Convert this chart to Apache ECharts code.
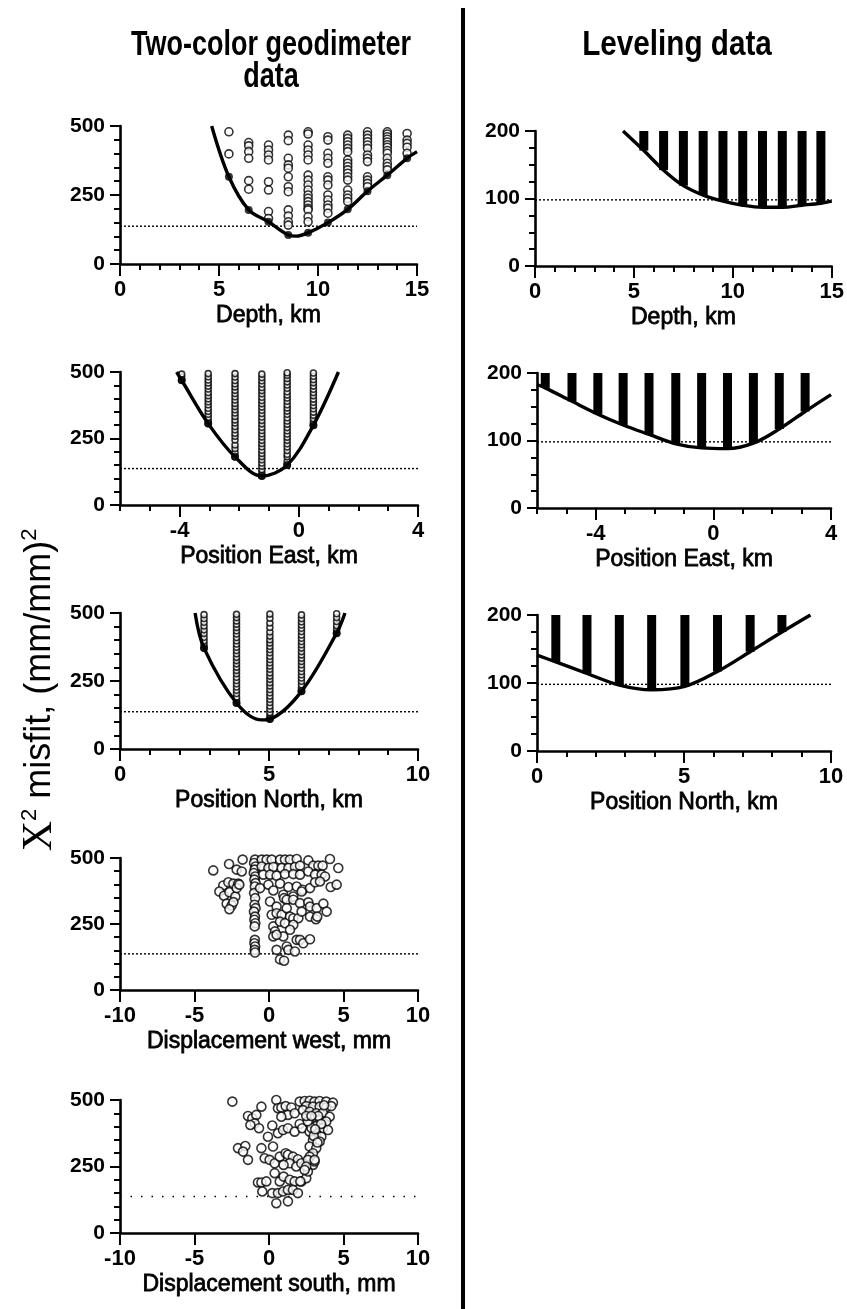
<!DOCTYPE html>
<html>
<head>
<meta charset="utf-8">
<script src="https://cdn.jsdelivr.net/npm/echarts@6/dist/echarts.min.js"></script>
<style>
html, body { margin: 0; padding: 0; background: #fff; }
#chart { width: 847px; height: 1309px; }
</style>
</head>
<body>
<div id="chart"></div>
<script>
// ---------- data ----------
var geoLine = 137;      // dotted reference level, two-color panels
var levLine = 98;       // dotted reference level, leveling panels

// two-color geodimeter: depth
var depthX = [5.5, 6.5, 7.5, 8.5, 9.5, 10.5, 11.5, 12.5, 13.5, 14.5];
var depthBest = [316, 196, 153, 105, 113, 150, 198, 264, 322, 383];
var depthRuns = [
  [479, 399],
  [440, 428, 407, 383, 302, 271],
  [431, 413, 395, 377, 298, 268, 190, 165],
  [467, 447, 383, 359, 347, 316, 280, 262, 196, 174, 153, 141],
  [479, 471, 431, 413, 395, 377, 322, 304, 286, 268, 250, 238, 226, 214, 202, 196, 171, 153],
  [461, 449, 401, 383, 365, 316, 304, 286, 250, 232, 214, 202, 184],
  [467, 455, 443, 431, 419, 407, 377, 365, 353, 341, 329, 316, 304, 268, 250, 238, 226],
  [479, 467, 455, 443, 431, 419, 395, 383, 371, 316, 304, 292, 280],
  [479, 471, 461, 452, 442, 432, 423, 411, 401, 383, 365, 353, 341],
  [473, 449, 437, 423, 401]
];
var depthCurve = [[4.63, 500], [5.5, 316], [6.5, 196], [7.5, 153], [8.5, 105], [8.9, 101], [9.5, 113],
  [10.5, 150], [11.5, 198], [12.5, 264], [13.5, 322], [14.5, 383], [15, 407]];

// two-color geodimeter: position east
var eastX = [-3.93, -3.04, -2.14, -1.24, -0.39, 0.49];
var eastBest = [469, 306, 181, 109, 150, 300];
var eastRuns = [
  [469, 481, 492],
  [306, 317, 329, 341, 352, 364, 377, 388, 399, 411, 423, 436, 447, 459, 470, 482, 494],
  [181, 196, 212, 226, 244, 258, 270, 283, 295, 308, 320, 333, 346, 358, 370, 382, 395, 407, 419, 431, 444, 456, 468, 481, 494],
  [109, 121, 133, 146, 158, 170, 182, 194, 206, 219, 231, 243, 256, 268, 280, 292, 305, 318, 331, 344, 356, 368, 381, 393, 405, 418, 430, 442, 455, 467, 479, 492],
  [150, 164, 181, 191, 205, 218, 230, 243, 255, 267, 279, 291, 304, 316, 328, 341, 353, 365, 377, 390, 402, 414, 426, 439, 451, 463, 476, 488, 497],
  [300, 312, 325, 337, 349, 362, 374, 386, 398, 411, 423, 435, 447, 460, 472, 484, 496]
];
var eastCurve = [[-4.1, 500], [-3.93, 469], [-3.04, 306], [-2.14, 181], [-1.24, 109], [-0.39, 150], [0.49, 300], [1.33, 500]];

// two-color geodimeter: position north
var northX = [2.82, 3.91, 5.03, 6.09, 7.27];
var northBest = [371, 169, 110, 212, 426];
var northRuns = [
  [371, 385, 398, 411, 425, 438, 452, 466, 480, 494],
  [169, 181, 190, 204, 216, 228, 240, 252, 264, 277, 289, 301, 313, 325, 337, 350, 362, 374, 386, 398, 410, 423, 435, 447, 459, 471, 483, 495],
  [110, 122, 134, 146, 158, 171, 183, 195, 207, 219, 232, 244, 256, 268, 280, 293, 305, 317, 329, 341, 354, 366, 378, 390, 402, 415, 430, 447, 463, 481, 496],
  [212, 224, 236, 249, 261, 273, 285, 297, 310, 322, 334, 346, 358, 371, 383, 395, 407, 419, 432, 444, 456, 468, 480, 493],
  [426, 440, 454, 469, 483, 497]
];
var northCurve = [[2.52, 500], [2.82, 371], [3.91, 169], [4.75, 107], [5.03, 110], [6.09, 212], [7.27, 426], [7.55, 500]];

// two-color geodimeter: displacement west
var westPts = [
  [-3.74, 453], [-2.68, 477], [-2.17, 456], [-1.83, 449], [-1.77, 494], [-3.07, 396], [-2.73, 408], [-2.39, 403],
  [-2.06, 403], [-3.33, 373], [-3.02, 357], [-2.66, 370], [-2.26, 354], [-2.84, 327], [-2.51, 320], [-2.39, 333],
  [-2.66, 306], [-2.17, 386], [-1.99, 399],
  [-0.94, 494], [-1.0, 481], [-0.9, 468], [-0.96, 456], [-1.02, 443], [-0.92, 430], [-0.98, 418], [-0.9, 405],
  [-0.95, 392], [-1.0, 367], [-0.93, 348], [-0.97, 323], [-0.9, 310], [-1.01, 297], [-0.94, 278], [-0.98, 266],
  [-0.92, 253], [-0.96, 241], [-0.95, 190], [-0.98, 177], [-0.93, 165], [-0.96, 152], [-0.94, 142],
  [-0.49, 494], [-0.16, 494], [0.18, 494], [0.74, 494], [1.07, 494], [1.41, 494], [1.86, 496], [2.64, 491], [4.09, 496],
  [-0.49, 468], [-0.04, 462], [0.29, 466], [0.85, 462], [1.30, 462], [1.74, 466], [2.08, 471], [2.97, 471],
  [3.31, 471], [3.60, 471], [4.65, 462],
  [-0.38, 437], [0.07, 437], [0.51, 433], [1.07, 439], [1.63, 439], [2.08, 437], [2.64, 449], [3.09, 437],
  [3.53, 437], [3.76, 430],
  [-0.60, 386], [-0.04, 399], [0.29, 377], [0.74, 403], [1.30, 390], [1.86, 392], [2.26, 380], [2.75, 386],
  [3.09, 408], [3.42, 411], [4.14, 390], [4.54, 399],
  [1.63, 354], [0.96, 361], [2.19, 373],
  [0.07, 335], [0.51, 316], [1.01, 348], [1.19, 342], [1.63, 342], [2.08, 329], [2.64, 332], [2.75, 316],
  [3.20, 310], [3.65, 327], [3.87, 297],
  [0.18, 285], [0.51, 291], [0.85, 285], [1.19, 310], [1.41, 278], [1.63, 272], [1.97, 272], [2.19, 297],
  [2.75, 278], [3.15, 268], [3.24, 278],
  [0.29, 241], [0.74, 259], [1.07, 253], [1.63, 247], [1.41, 228], [0.40, 222], [0.29, 203], [0.96, 203], [0.51, 209],
  [1.86, 190], [2.08, 190], [2.30, 177], [2.75, 192],
  [0.51, 152], [1.19, 165], [1.30, 152], [1.74, 146], [0.74, 116], [1.01, 111]
];

// two-color geodimeter: displacement south
var southPts = [
  [-2.46, 494], [-1.41, 440], [-1.12, 431], [-0.85, 444], [-0.51, 475], [-0.96, 412], [-0.67, 394], [-1.25, 406],
  [0.49, 500], [0.60, 469], [0.83, 472], [1.12, 477], [1.50, 472], [1.27, 444], [0.83, 437], [1.72, 450],
  [0.22, 404], [0.60, 375], [0.94, 387], [1.27, 394], [1.72, 381], [2.06, 410], [2.23, 394],
  [-0.07, 362], [0.27, 325], [-0.51, 319], [-2.08, 319], [-1.59, 327], [-1.74, 306], [-1.41, 275],
  [-0.29, 281], [0.04, 275], [0.38, 262], [0.72, 287], [1.12, 300], [1.27, 294], [1.61, 287], [1.94, 277],
  [1.39, 262], [0.98, 256], [1.83, 250], [2.17, 262], [2.95, 256], [3.06, 269],
  [0.38, 225], [0.72, 194], [0.98, 212], [1.39, 200], [1.72, 194], [2.17, 194], [2.50, 206], [2.61, 231],
  [-0.74, 190], [-0.51, 190], [-0.18, 194],
  [-0.45, 156], [0.22, 150], [0.60, 150], [0.94, 156], [1.27, 162], [1.61, 162], [1.94, 150], [2.10, 194],
  [0.49, 112], [1.27, 119],
  [2.06, 494], [2.39, 496], [2.73, 497], [3.06, 494], [3.40, 496], [3.84, 494], [4.29, 490],
  [2.50, 477], [2.95, 475], [3.40, 475], [3.84, 472], [4.18, 477],
  [2.28, 462], [2.73, 456], [3.17, 450], [3.62, 452], [4.07, 437],
  [2.95, 431], [3.40, 425], [3.84, 419], [2.73, 412], [3.17, 402], [3.62, 394], [3.96, 387],
  [2.73, 381], [3.17, 375], [3.51, 362], [2.95, 350], [3.40, 344], [2.73, 325], [3.17, 319],
  [2.95, 300], [2.73, 287], [2.61, 275], [2.50, 250], [2.39, 237], [3.06, 275],
  [3.3, 440], [3.5, 410], [2.85, 395], [3.0, 365], [3.25, 340], [2.6, 420], [2.5, 440], [3.7, 480], [2.85, 440], [3.1, 390]
];

// leveling: depth / east / north (columns of models run up past 200)
var levDepthX = [5.5, 6.5, 7.5, 8.5, 9.5, 10.5, 11.5, 12.5, 13.5, 14.45];
var levDepthBest = [171, 142, 119, 105, 96, 90, 87, 87, 90, 93];
var levDepthCurve = [[4.45, 200], [5.5, 171], [6.5, 142], [7.5, 119], [8.5, 105], [9.5, 96], [10.5, 90],
  [11.5, 87], [12.5, 87], [13.5, 90], [14.45, 93], [15, 96]];

var levEastX = [-5.72, -4.81, -3.93, -3.07, -2.19, -1.28, -0.40, 0.48, 1.36, 2.24, 3.12];
var levEastBest = [178, 158, 139, 123, 109, 95, 89, 88, 96, 117, 143];
var levEastCurve = [[-6, 183], [-5.72, 178], [-4.81, 158], [-3.93, 139], [-3.07, 123], [-2.19, 109], [-1.28, 95],
  [-0.40, 89], [0.48, 88], [1.36, 96], [2.24, 117], [3.12, 143], [4, 168]];

var levNorthX = [0.64, 1.70, 2.80, 3.90, 5.03, 6.14, 7.25, 8.33];
var levNorthBest = [131, 114, 97, 90, 95, 117, 146, 175];
var levNorthCurve = [[0, 141], [0.64, 131], [1.70, 114], [2.80, 97], [3.90, 90], [5.03, 95], [6.14, 117],
  [7.25, 146], [8.33, 175], [9.3, 200]];

// axes
var xRanges = [[0, 15], [-6, 4], [0, 10], [-10, 10], [-10, 10], [0, 15], [-6, 4], [0, 10]];
var xTickLabels = [[0, 5, 10, 15], [-4, 0, 4], [0, 5, 10], [-10, -5, 0, 5, 10], [-10, -5, 0, 5, 10],
  [0, 5, 10, 15], [-4, 0, 4], [0, 5, 10]];
var xMinorStep = [1, 1, 1, 0, 0, 1, 1, 1];
var xNames = ['Depth, km', 'Position East, km', 'Position North, km', 'Displacement west, mm',
  'Displacement south, mm', 'Depth, km', 'Position East, km', 'Position North, km'];
var yMaxes = [500, 500, 500, 500, 500, 200, 200, 200];
var ySteps = [250, 250, 250, 250, 250, 100, 100, 100];
var yMinorSplit = [5, 5, 5, 5, 5, 4, 4, 4];

// ---------- layout ----------
var layout = [
  { left: 120, top: 126, width: 297, height: 138 },
  { left: 120, top: 372, width: 298, height: 133 },
  { left: 120, top: 613, width: 298, height: 136 },
  { left: 120, top: 858, width: 298, height: 132 },
  { left: 120, top: 1100, width: 298, height: 133 },
  { left: 535, top: 131, width: 297, height: 135 },
  { left: 537, top: 373, width: 294, height: 135 },
  { left: 537, top: 615, width: 294, height: 136 }
];

var FONT = '"Liberation Sans", Arial, Helvetica, sans-serif';
var INK = '#000';

var grids = [], xAxes = [], yAxes = [], series = [];

layout.forEach(function (g, i) {
  grids.push({ left: g.left, top: g.top, width: g.width, height: g.height, containLabel: false });
  // main x axis: line, long ticks, labels
  xAxes.push({
    type: 'value', gridIndex: i, position: 'bottom', min: xRanges[i][0], max: xRanges[i][1],
    axisLine: { show: true, onZero: false, lineStyle: { color: INK, width: 2.6 } },
    axisTick: { show: true, customValues: xTickLabels[i], length: 12, lineStyle: { color: INK, width: 2 } },
    axisLabel: { customValues: xTickLabels[i], margin: 15, fontSize: 22, fontWeight: 'bold', color: INK,
      fontFamily: FONT },
    splitLine: { show: false },
    name: xNames[i], nameLocation: 'middle', nameGap: 40,
    nameTextStyle: { fontSize: 23, color: INK, fontFamily: FONT, textBorderColor: INK, textBorderWidth: 0.8 }
  });
  // minor x ticks
  xAxes.push({
    type: 'value', gridIndex: i, position: 'bottom', min: xRanges[i][0], max: xRanges[i][1],
    interval: xMinorStep[i] || 1, show: xMinorStep[i] > 0,
    axisLine: { show: false, onZero: false },
    axisTick: { show: true, length: 6, lineStyle: { color: INK, width: 2 } },
    axisLabel: { show: false }, splitLine: { show: false }
  });
  yAxes.push({
    type: 'value', gridIndex: i, min: 0, max: yMaxes[i], interval: ySteps[i],
    axisLine: { show: true, onZero: false, lineStyle: { color: INK, width: 2.6 } },
    axisTick: { show: true, length: 10, lineStyle: { color: INK, width: 2 } },
    minorTick: { show: true, splitNumber: yMinorSplit[i], length: 6, lineStyle: { color: INK, width: 2 } },
    axisLabel: { margin: 15, fontSize: 21, fontWeight: 'bold', color: INK, fontFamily: FONT },
    splitLine: { show: false }, minorSplitLine: { show: false }
  });
});

function addLevel(i, v, dash) {
  series.push({
    type: 'line', xAxisIndex: 2 * i, yAxisIndex: i, silent: true, symbol: 'none', z: 1,
    data: [[xRanges[i][0], v], [xRanges[i][1], v]],
    lineStyle: { color: INK, width: 1.4, type: dash }
  });
}
function addCurve(i, pts) {
  series.push({
    type: 'line', xAxisIndex: 2 * i, yAxisIndex: i, silent: true, symbol: 'none', z: 4,
    smooth: 0.35, data: pts, lineStyle: { color: INK, width: 3.4 }
  });
}
function addRuns(i, xs, runs, size, bw) {
  var d = [];
  xs.forEach(function (x, k) { runs[k].forEach(function (v) { d.push([x, v]); }); });
  series.push({
    type: 'scatter', xAxisIndex: 2 * i, yAxisIndex: i, silent: true, z: 3, data: d,
    symbol: 'circle', symbolSize: size,
    itemStyle: { color: '#fff', borderColor: INK, borderWidth: bw }
  });
}
function addBest(i, xs, best) {
  series.push({
    type: 'scatter', xAxisIndex: 2 * i, yAxisIndex: i, silent: true, z: 5,
    data: xs.map(function (x, k) { return [x, best[k]]; }),
    symbol: 'circle', symbolSize: 8, itemStyle: { color: INK }
  });
}
function addCloud(i, pts) {
  series.push({
    type: 'scatter', xAxisIndex: 2 * i, yAxisIndex: i, silent: true, z: 3, data: pts,
    symbol: 'circle', symbolSize: 9,
    itemStyle: { color: '#fff', borderColor: INK, borderWidth: 1.6 }
  });
}
function addBars(i, xs, best) {
  series.push({
    type: 'custom', xAxisIndex: 2 * i, yAxisIndex: i, silent: true, z: 3,
    data: xs.map(function (x, k) { return [x, best[k], yMaxes[i]]; }),
    encode: { x: 0, y: [1, 2] },
    renderItem: function (params, api) {
      var lo = api.coord([api.value(0), api.value(1)]);
      var hi = api.coord([api.value(0), api.value(2)]);
      return { type: 'rect', shape: { x: lo[0] - 4.5, y: hi[1], width: 9, height: lo[1] - hi[1] },
        style: { fill: INK } };
    }
  });
}

// left column
addLevel(0, geoLine, [2, 2]); addRuns(0, depthX, depthRuns, 8, 1.6); addCurve(0, depthCurve); addBest(0, depthX, depthBest);
addLevel(1, geoLine, [2, 2]); addRuns(1, eastX, eastRuns, 6, 1.6); addCurve(1, eastCurve); addBest(1, eastX, eastBest);
addLevel(2, geoLine, [2, 2]); addRuns(2, northX, northRuns, 6, 1.6); addCurve(2, northCurve); addBest(2, northX, northBest);
addLevel(3, geoLine, [2, 2]); addCloud(3, westPts);
addLevel(4, geoLine, [1.5, 9]); addCloud(4, southPts);
// right column
addLevel(5, levLine, [2, 2]); addBars(5, levDepthX, levDepthBest); addCurve(5, levDepthCurve);
addLevel(6, levLine, [2, 2]); addBars(6, levEastX, levEastBest); addCurve(6, levEastCurve);
addLevel(7, levLine, [2, 2]); addBars(7, levNorthX, levNorthBest); addCurve(7, levNorthCurve);

var titleStyle = function (txt, size) {
  return { text: txt, fontSize: size, fontWeight: 'bold', fontFamily: FONT, fill: INK,
    align: 'center', verticalAlign: 'middle', textAlign: 'center', textVerticalAlign: 'middle' };
};

var chart = echarts.init(document.getElementById('chart'));
chart.setOption({
  animation: false,
  backgroundColor: '#fff',
  grid: grids,
  xAxis: xAxes,
  yAxis: yAxes,
  series: series,
  graphic: [
    { type: 'rect', shape: { x: 461, y: 8, width: 4, height: 1301 }, style: { fill: INK } },
    { type: 'text', x: 271, y: 45, scaleY: 1.28, style: titleStyle('Two-color geodimeter', 27) },
    { type: 'text', x: 271, y: 77, scaleY: 1.28, style: titleStyle('data', 27) },
    { type: 'text', x: 677, y: 45, scaleX: 1.06, scaleY: 1.28, style: titleStyle('Leveling data', 28) },
    { type: 'text', x: 40, y: 690, rotation: Math.PI / 2, style: {
        text: '{c|X}{s|2}{t| misfit, (mm/mm)}{s|2}',
        align: 'center', verticalAlign: 'middle', textAlign: 'center', textVerticalAlign: 'middle', fill: INK,
        rich: {
          c: { fontFamily: '"Liberation Serif", "Times New Roman", serif', fontSize: 42, lineHeight: 42, fill: INK },
          t: { fontFamily: FONT, fontSize: 36, lineHeight: 42, fill: INK },
          s: { fontFamily: FONT, fontSize: 22, lineHeight: 42, verticalAlign: 'top', fill: INK }
        } } }
  ]
});
</script>
</body>
</html>
